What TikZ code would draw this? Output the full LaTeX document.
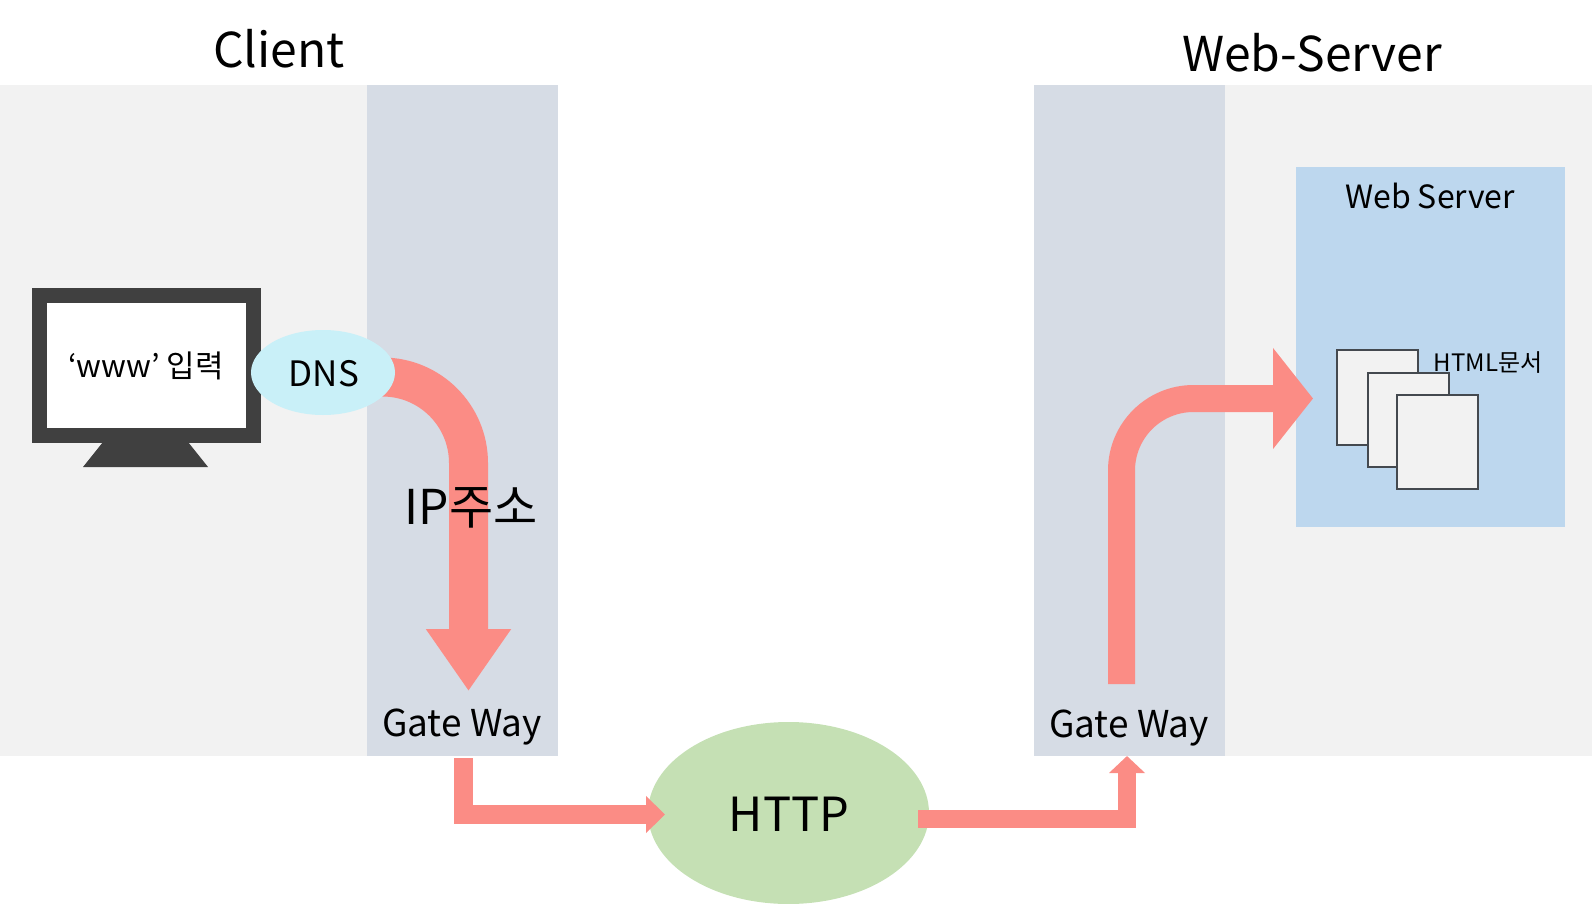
\documentclass[tikz,border=0pt]{standalone}
\usepackage{fontspec}
\setmainfont{Noto Sans CJK KR}
\usetikzlibrary{arrows.meta,shapes.geometric}
\pgfdeclarelayer{panels}
\pgfdeclarelayer{arrows}
\pgfsetlayers{panels,arrows,main}
\definecolor{panelgray}{HTML}{F2F2F2}
\definecolor{gatecol}{HTML}{D6DCE5}
\definecolor{servercol}{HTML}{BDD7EE}
\definecolor{fatcol}{HTML}{FB8C85}
\definecolor{httpcol}{HTML}{C5E0B4}
\definecolor{dnscol}{HTML}{C9F0F8}
\definecolor{moncol}{HTML}{404040}
\definecolor{doccol}{HTML}{44494F}
\tikzset{
  panel/.style={draw=none,inner sep=0pt,outer sep=0pt,rectangle},
  oval/.style={ellipse,draw=none,inner sep=0pt,outer sep=0pt},
  docbox/.style={rectangle,draw=doccol,line width=1.2pt,fill=panelgray,inner sep=0pt,outer sep=0pt},
  fat/.style={draw=fatcol,fill=none,line cap=butt},
  lab/.style={inner sep=0pt,outer sep=0pt,text=black,anchor=center},
}
\begin{document}
\begin{tikzpicture}[x=1pt,y=-1pt]
\useasboundingbox (0,0) rectangle (1592,904);
\begin{pgfonlayer}{panels}
\node[panel,fill=panelgray,minimum width=367pt,minimum height=671pt,anchor=north west] (clientbg) at (0,85) {};
\node[panel,fill=gatecol,minimum width=191pt,minimum height=671pt,anchor=north west] (gw1) at (367,85) {};
\node[panel,fill=gatecol,minimum width=191pt,minimum height=671pt,anchor=north west] (gw2) at (1034,85) {};
\node[panel,fill=panelgray,minimum width=367pt,minimum height=671pt,anchor=north west] (serverbg) at (1225,85) {};
\node[panel,fill=servercol,minimum width=269pt,minimum height=360pt,anchor=north west] (server) at (1296,167) {};
\node[oval,fill=httpcol,minimum width=281pt,minimum height=182pt] (http) at (788.5,813) {};
\end{pgfonlayer}

% monitor
\fill[moncol] (103,442) -- (188,442) -- (208,467) -- (83,467) -- cycle;
\node[panel,fill=white,draw=moncol,line width=15pt,minimum width=214pt,minimum height=140pt,anchor=north west] (screen) at (39,295) {};
\node[lab,font=\fontsize{31}{36}\selectfont] (wwwlab) at (146,366) {‘www’ 입력};

\node[oval,fill=dnscol,minimum width=144pt,minimum height=85pt] (dns) at (323,372.5) {};
\node[lab,font=\fontsize{35}{42}\selectfont] (dnslab) at (324,374) {DNS};
\node[lab,font=\fontsize{47}{60}\selectfont] (httplab) at (789,814) {HTTP};

% documents
\node[docbox,minimum width=81pt,minimum height=95pt,anchor=north west] (doca) at (1337,350) {};
\node[docbox,minimum width=81pt,minimum height=94pt,anchor=north west] (docb) at (1368,373) {};
\node[docbox,minimum width=81pt,minimum height=94pt,anchor=north west] (docc) at (1397,395) {};

% labels
\node[lab,font=\fontsize{48}{60}\selectfont] (client) at (279,49) {Client};
\node[lab,font=\fontsize{48}{60}\selectfont] (webserver) at (1312,53) {Web-Server};
\node[lab,font=\fontsize{32}{38}\selectfont] (websrv) at (1430,196) {Web Server};
\node[lab,font=\fontsize{24}{30}\selectfont] (htmllab) at (1488,363) {HTML문서};
\node[lab,font=\fontsize{37}{42}\selectfont] (gwlab1) at (462,727) {Gate Way};
\node[lab,font=\fontsize{37}{42}\selectfont] (gwlab2) at (1129,728) {Gate Way};
\node[lab,font=\fontsize{48}{54}\selectfont] (iplab) at (471,508) {IP주소};

% free ends of the fat arrows
\coordinate (ipstart) at (380,377);
\coordinate (iptip) at (468.5,691);
\coordinate (g1out) at (463.5,758);
\coordinate (httpin) at (665,814.5);
\coordinate (httpout) at (918,819);
\coordinate (g2in) at (1127,756);
\coordinate (g2out) at (1121.5,684);
\coordinate (docin) at (1313,398.5);

\begin{pgfonlayer}{arrows}
\draw[fat,line width=39pt,rounded corners=86pt,-{Triangle[length=62pt,width=81pt]}] (ipstart) -| (iptip);
\draw[fat,line width=19pt,-{Triangle[length=19pt,width=36pt]}] (g1out) |- (httpin);
\draw[fat,line width=18pt,-{Triangle[length=17pt,width=35pt]}] (httpout) -| (g2in);
\draw[fat,line width=27pt,rounded corners=72pt,-{Triangle[length=40pt,width=99pt]}] (g2out) |- (docin);
\end{pgfonlayer}
\end{tikzpicture}
\end{document}
